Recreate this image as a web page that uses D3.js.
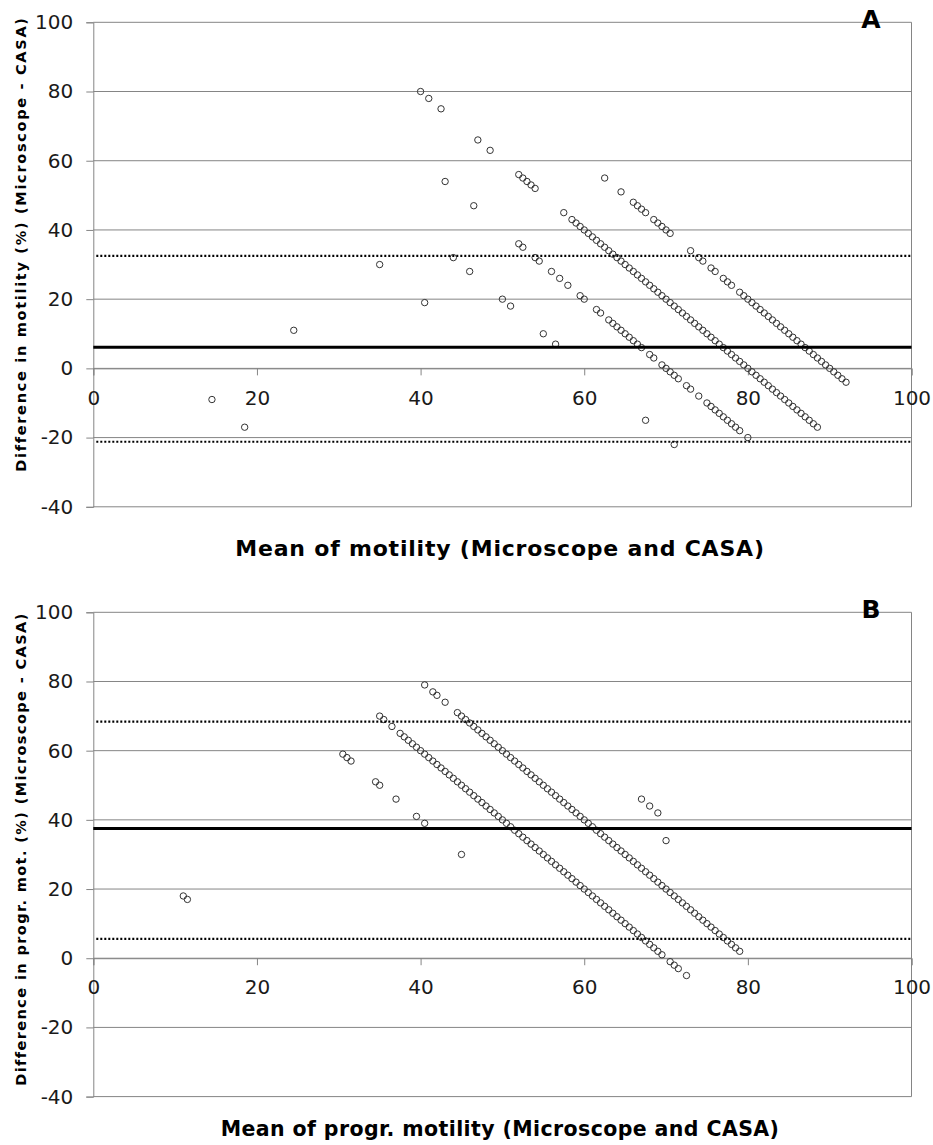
<!DOCTYPE html>
<html><head><meta charset="utf-8">
<script src="https://cdn.jsdelivr.net/npm/d3@7"></script>
<style>
body{margin:0;background:#fff}
svg{display:block}
text{font-family:"DejaVu Sans",Verdana,sans-serif}
</style>
</head><body>
<svg id="chart" width="933" height="1145"></svg>
<script>
// ---------- Data (mean, difference) ----------
const xTicks = [0, 20, 40, 60, 80, 100];
const yTicks = [-40, -20, 0, 20, 40, 60, 80, 100];

// Panel A: motility
const aMeanDiff = 6.1, aUpperLoA = 32.5, aLowerLoA = -21.2;
const aGroup10 = [[14.5,-9],[18.5,-17]];
const aGroup30 = [[24.5,11]];
const aGroup50 = [[35,30],[40.5,19]];
const aGroup60 = [[44,32],[46,28],[50,20],[51,18],[55,10],[56.5,7],[67.5,-15],[71,-22]];
const aGroup70 = [[43,54],[46.5,47],[52,36],[52.5,35],[54,32],[54.5,31],[56,28],[57,26],[58,24],
  [59.5,21],[60,20],[61.5,17],[62,16],[63,14],[63.5,13],[64,12],[64.5,11],[65,10],[65.5,9],[66,8],
  [66.5,7],[67,6],[68,4],[68.5,3],[69.5,1],[70,0],[70.5,-1],[71,-2],[71.5,-3],[72.5,-5],[73,-6],
  [74,-8],[75,-10],[75.5,-11],[76,-12],[76.5,-13],[77,-14],[77.5,-15],[78,-16],[78.5,-17],[79,-18],[80,-20]];
const aGroup80 = [[40,80],[41,78],[42.5,75],[47,66],[48.5,63],[52,56],[52.5,55],[53,54],[53.5,53],[54,52],
  [57.5,45],[58.5,43],[59,42],[59.5,41],[60,40],[60.5,39],[61,38],[61.5,37],[62,36],[62.5,35],[63,34],
  [63.5,33],[64,32],[64.5,31],[65,30],[65.5,29],[66,28],[66.5,27],[67,26],[67.5,25],[68,24],[68.5,23],
  [69,22],[69.5,21],[70,20],[70.5,19],[71,18],[71.5,17],[72,16],[72.5,15],[73,14],[73.5,13],[74,12],
  [74.5,11],[75,10],[75.5,9],[76,8],[76.5,7],[77,6],[77.5,5],[78,4],[78.5,3],[79,2],[79.5,1],[80,0],
  [80.5,-1],[81,-2],[81.5,-3],[82,-4],[82.5,-5],[83,-6],[83.5,-7],[84,-8],[84.5,-9],[85,-10],[85.5,-11],
  [86,-12],[86.5,-13],[87,-14],[87.5,-15],[88,-16],[88.5,-17]];
const aGroup90 = [[62.5,55],[64.5,51],[66,48],[66.5,47],[67,46],[67.5,45],[68.5,43],[69,42],[69.5,41],
  [70,40],[70.5,39],[73,34],[74,32],[74.5,31],[75.5,29],[76,28],[77,26],[77.5,25],[78,24],[79,22],
  [79.5,21],[80,20],[80.5,19],[81,18],[81.5,17],[82,16],[82.5,15],[83,14],[83.5,13],[84,12],[84.5,11],
  [85,10],[85.5,9],[86,8],[86.5,7],[87,6],[87.5,5],[88,4],[88.5,3],[89,2],[89.5,1],[90,0],[90.5,-1],
  [91,-2],[91.5,-3],[92,-4]];

// Panel B: progressive motility
const bMeanDiff = 37.5, bUpperLoA = 68.4, bLowerLoA = 5.6;
const bGroup20 = [[11,18],[11.5,17]];
const bGroup60 = [[30.5,59],[31,58],[31.5,57],[34.5,51],[35,50],[37,46],[39.5,41],[40.5,39],[45,30]];
const bGroup90 = [[67,46],[68,44],[69,42],[70,34]];
const bGroup70 = [[35,70],[35.5,69],[36.5,67],[37.5,65],[38,64],[38.5,63],[39,62],[39.5,61],[40,60],
  [40.5,59],[41,58],[41.5,57],[42,56],[42.5,55],[43,54],[43.5,53],[44,52],[44.5,51],[45,50],[45.5,49],
  [46,48],[46.5,47],[47,46],[47.5,45],[48,44],[48.5,43],[49,42],[49.5,41],[50,40],[50.5,39],[51,38],
  [51.5,37],[52,36],[52.5,35],[53,34],[53.5,33],[54,32],[54.5,31],[55,30],[55.5,29],[56,28],[56.5,27],
  [57,26],[57.5,25],[58,24],[58.5,23],[59,22],[59.5,21],[60,20],[60.5,19],[61,18],[61.5,17],[62,16],
  [62.5,15],[63,14],[63.5,13],[64,12],[64.5,11],[65,10],[65.5,9],[66,8],[66.5,7],[67,6],[67.5,5],
  [68,4],[68.5,3],[69,2],[69.5,1],[70.5,-1],[71,-2],[71.5,-3],[72.5,-5]];
const bGroup80 = [[40.5,79],[41.5,77],[42,76],[43,74],[44.5,71],[45,70],[45.5,69],[46,68],[46.5,67],
  [47,66],[47.5,65],[48,64],[48.5,63],[49,62],[49.5,61],[50,60],[50.5,59],[51,58],[51.5,57],[52,56],
  [52.5,55],[53,54],[53.5,53],[54,52],[54.5,51],[55,50],[55.5,49],[56,48],[56.5,47],[57,46],[57.5,45],
  [58,44],[58.5,43],[59,42],[59.5,41],[60,40],[60.5,39],[61,38],[61.5,37],[62,36],[62.5,35],[63,34],
  [63.5,33],[64,32],[64.5,31],[65,30],[65.5,29],[66,28],[66.5,27],[67,26],[67.5,25],[68,24],[68.5,23],
  [69,22],[69.5,21],[70,20],[70.5,19],[71,18],[71.5,17],[72,16],[72.5,15],[73,14],[73.5,13],[74,12],
  [74.5,11],[75,10],[75.5,9],[76,8],[76.5,7],[77,6],[77.5,5],[78,4],[78.5,3],[79,2]];

const panels = [
  { letter: "A", top: 22.3, bottom: 506.8, yTitleCenter: 244, xTitleBase: 556,
    yTitleSpacing: 1.7, xTitleSize: 22, xTitleSpacing: 0.8,
    yTitle: "Difference in motility (%) (Microscope - CASA)",
    xTitle: "Mean of motility (Microscope and CASA)",
    groups: [aGroup10, aGroup30, aGroup50, aGroup60, aGroup70, aGroup80, aGroup90],
    mean: aMeanDiff, upper: aUpperLoA, lower: aLowerLoA },
  { letter: "B", top: 612.3, bottom: 1096.6, yTitleCenter: 849, xTitleBase: 1136,
    yTitleSpacing: 1.4, xTitleSize: 20.5, xTitleSpacing: 0.4,
    yTitle: "Difference in progr. mot. (%) (Microscope - CASA)",
    xTitle: "Mean of progr. motility (Microscope and CASA)",
    groups: [bGroup20, bGroup60, bGroup90, bGroup70, bGroup80],
    mean: bMeanDiff, upper: bUpperLoA, lower: bLowerLoA }
];

// ---------- Drawing ----------
const svg = d3.select("#chart");
const left = 93.3, right = 911.5;
const gridColor = "#858585", textColor = "#1a1a1a";
const fmt = d => String(d);   // plain hyphen for negatives, as in the original

panels.forEach(p => {
  const x = d3.scaleLinear().domain([0, 100]).range([left, right]);
  const y = d3.scaleLinear().domain([-40, 100]).range([p.bottom, p.top]);
  const g = svg.append("g");

  // horizontal gridlines
  g.append("g").selectAll("line").data(yTicks).join("line")
    .attr("x1", left).attr("x2", right)
    .attr("y1", d => y(d)).attr("y2", d => y(d))
    .attr("stroke", gridColor).attr("stroke-width", 1);
  // right border
  g.append("line").attr("x1", right).attr("x2", right)
    .attr("y1", y(100)).attr("y2", y(-40)).attr("stroke", gridColor);

  // y axis
  const yAxis = g.append("g").attr("transform", `translate(${left},0)`)
    .call(d3.axisLeft(y).tickValues(yTicks).tickSize(7).tickPadding(13).tickFormat(fmt));
  yAxis.select(".domain").attr("stroke", gridColor);
  yAxis.selectAll(".tick line").attr("stroke", gridColor);
  yAxis.selectAll(".tick text").attr("fill", textColor)
    .style("font-size", "20px").style("font-family", '"DejaVu Sans",Verdana,sans-serif');

  // x axis at y = 0
  const xAxis = g.append("g").attr("transform", `translate(0,${y(0)})`)
    .call(d3.axisBottom(x).tickValues(xTicks).tickSize(7).tickPadding(15).tickFormat(fmt));
  xAxis.select(".domain").attr("stroke", gridColor);
  xAxis.selectAll(".tick line").attr("stroke", gridColor);
  xAxis.selectAll(".tick text").attr("fill", textColor)
    .style("font-size", "20px").style("font-family", '"DejaVu Sans",Verdana,sans-serif');

  // points
  const pts = p.groups.flat();
  g.append("g").selectAll("circle").data(pts).join("circle")
    .attr("cx", d => x(d[0])).attr("cy", d => y(d[1])).attr("r", 3.2)
    .attr("fill", "none").attr("stroke", "#333").attr("stroke-width", 1);

  // mean and limits of agreement
  g.append("line").attr("x1", left).attr("x2", right)
    .attr("y1", y(p.mean)).attr("y2", y(p.mean))
    .attr("stroke", "#000").attr("stroke-width", 3);
  [p.upper, p.lower].forEach(v => {
    g.append("line").attr("x1", left + 3).attr("x2", right)
      .attr("y1", y(v)).attr("y2", y(v))
      .attr("stroke", "#000").attr("stroke-width", 2.2).attr("stroke-dasharray", "2,2");
  });

  // titles
  g.append("text").attr("transform", `translate(26,${p.yTitleCenter}) rotate(-90)`)
    .attr("text-anchor", "middle").attr("font-weight", "bold").attr("font-size", 14.5)
    .attr("letter-spacing", p.yTitleSpacing + "px")
    .attr("fill", "#000").text(p.yTitle);
  g.append("text").attr("x", 500).attr("y", p.xTitleBase)
    .attr("text-anchor", "middle").attr("font-weight", "bold").attr("font-size", p.xTitleSize)
    .attr("letter-spacing", p.xTitleSpacing + "px")
    .attr("fill", "#000").text(p.xTitle);
  g.append("text").attr("x", 871).attr("y", p.top + 5.5)
    .attr("text-anchor", "middle").attr("font-weight", "bold").attr("font-size", 25)
    .attr("fill", "#000").text(p.letter);
});
</script>
</body></html>
